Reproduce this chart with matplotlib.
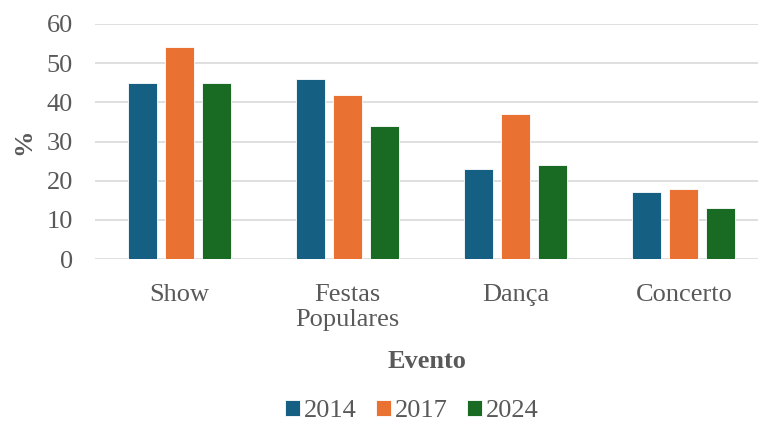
import numpy as np
import matplotlib
matplotlib.use('Agg')
import matplotlib.pyplot as plt

categories = ['Show', 'Festas\nPopulares', 'Dança', 'Concerto']
years = ['2014', '2017', '2024']
values_2014 = [45, 46, 23, 17]
values_2017 = [54, 42, 37, 18]
values_2024 = [45, 34, 24, 13]
colors = ['#156082', '#E97132', '#196B24']

plt.rcParams['font.family'] = ['Liberation Serif', 'DejaVu Serif']
text_color = '#595959'
fs = 19

fig = plt.figure(figsize=(7.58, 4.23), dpi=100)
ax = fig.add_axes([95 / 758, 1 - 259 / 423, 663 / 758, 235 / 423])

x = np.arange(len(categories))
width = 0.172
step = 0.22
series = [values_2014, values_2017, values_2024]
for i, vals in enumerate(series):
    ax.bar(x + (i - 1) * step, vals, width, color=colors[i], label=years[i],
           edgecolor='white', linewidth=0.6, zorder=3)

ax.set_ylim(0, 60)
ax.set_yticks(range(0, 61, 10))
ax.set_xlim(-0.5, 3.5 - 10 / 168)
ax.grid(axis='y', color='#d9d9d9', linewidth=1.2, zorder=0)
for s in ax.spines.values():
    s.set_visible(False)
ax.tick_params(axis='both', length=0, labelsize=fs, colors=text_color)
ax.tick_params(axis='y', pad=16)
ax.tick_params(axis='x', pad=18)
ax.set_xticks(x)
ax.set_xticklabels(categories, linespacing=1.15)

ax.set_xlabel('Evento', fontsize=fs, fontweight='bold', color=text_color,
              labelpad=14)
ax.set_ylabel('%', fontsize=fs, fontweight='bold', color=text_color,
              labelpad=8)

ax.legend(loc='center', bbox_to_anchor=(412 / 758, 1 - 411 / 423),
          bbox_transform=fig.transFigure, ncol=3,
          frameon=False, fontsize=fs, labelcolor=text_color,
          handlelength=0.55, handleheight=0.55, handletextpad=0.15,
          columnspacing=0.75)

fig.savefig('out.png', dpi=100)
